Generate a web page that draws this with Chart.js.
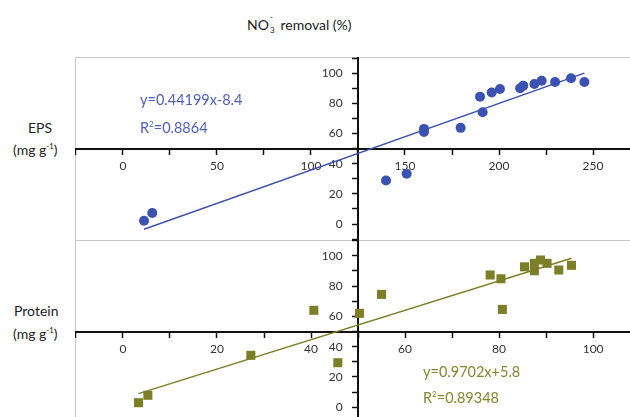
<!DOCTYPE html>
<html>
<head>
<meta charset="utf-8">
<script src="https://cdn.jsdelivr.net/npm/chart.js@4"></script>
<style>
  html, body { margin:0; padding:0; background:#fff; }
  #wrap { position:relative; width:630px; height:417px; overflow:hidden; background:#fff; font-family: Lato, "Open Sans", sans-serif; color:#222; }
  .t { position:absolute; white-space:nowrap; line-height:1; }
  .panel { position:absolute; left:75px; }
  sup, sub { font-size:0.55em; line-height:0; }
  .ion { display:inline-block; position:relative; width:8px; height:1em; vertical-align:baseline; }
  .ion .u { position:absolute; left:1px; top:-3px; font-size:8px; }
  .ion .d { position:absolute; left:1px; top:10px; font-size:8px; }
</style>
</head>
<body>
<div id="wrap">
  <div class="t" style="left:247px;top:16px;font-size:14px;">NO<span class="ion"><span class="u">-</span><span class="d">3</span></span> removal (%)</div>
  <div class="t" style="left:28px;top:121px;font-size:14px;">EPS</div>
  <div class="t" style="left:13px;top:143px;font-size:14px;">(mg g<sup>-1</sup>)</div>
  <div class="t" style="left:14px;top:304px;font-size:14px;">Protein</div>
  <div class="t" style="left:13px;top:327px;font-size:14px;">(mg g<sup>-1</sup>)</div>

  <div class="panel" style="top:57px;"><canvas id="c1" width="575" height="183"></canvas></div>
  <div class="panel" style="top:240px;"><canvas id="c2" width="575" height="183"></canvas></div>

  <div class="t" style="left:140px;top:93px;font-size:14.5px;color:#4f5fbf;">y=0.44199x-8.4</div>
  <div class="t" style="left:140px;top:121px;font-size:14.5px;color:#4f5fbf;">R<sup>2</sup>=0.8864</div>
  <div class="t" style="left:423px;top:365px;font-size:14.5px;color:#84862f;">y=0.9702x+5.8</div>
  <div class="t" style="left:423px;top:391px;font-size:14.5px;color:#84862f;">R<sup>2</sup>=0.89348</div>
</div>
<script>
// ---- data ----
const epsX = [11.2, 15.6, 139.9, 150.9, 160.1, 160.1, 179.6, 189.9, 191.3, 196.1, 200.5, 211.2, 212.9, 218.8, 222.7, 229.8, 238.3, 245.4];
const epsY = [2.2, 7.3, 28.9, 33.3, 63.1, 61.1, 63.8, 84.5, 74.2, 87.2, 89.6, 90.1, 91.8, 92.9, 95.1, 94.2, 96.7, 94.2];
const epsSlope = 0.44199, epsIntercept = -8.4;

const protX = [3.3, 5.3, 27.2, 40.6, 45.7, 50.3, 55.0, 78.1, 80.4, 80.7, 85.4, 87.5, 87.5, 88.8, 90.2, 92.7, 95.4];
const protY = [3.0, 7.9, 34.3, 64.0, 29.4, 62.0, 74.5, 87.3, 84.8, 64.6, 92.7, 95.0, 90.1, 97.2, 95.0, 90.6, 93.7];
const protSlope = 0.9702, protIntercept = 5.8;

// tick positions and which get labels
const epsXTicks = [-25, 0, 25, 50, 75, 100, 125, 150, 175, 200, 225, 250, 275];
const epsXLabels = [0, 50, 100, 150, 200, 250];
const protXTicks = [-10, 0, 10, 20, 30, 40, 50, 60, 70, 80, 90, 100, 110];
const protXLabels = [0, 20, 40, 60, 80, 100];
const yTicks = [-10, 0, 10, 20, 30, 40, 50, 60, 70, 80, 90, 100, 110];
const yLabels = [0, 20, 40, 60, 80, 100];

const framePlugin = {
  id: 'frame',
  beforeDraw(chart) {
    const a = chart.chartArea, ctx = chart.ctx;
    ctx.save();
    ctx.strokeStyle = '#c9c9c9';
    ctx.lineWidth = 1;
    ctx.strokeRect(a.left + 0.5, a.top + 0.5, a.right - a.left - 1, a.bottom - a.top);
    ctx.restore();
  }
};

function fitLine(xs, m, b) {
  const x0 = Math.min(...xs), x1 = Math.max(...xs);
  return [{x: x0, y: m * x0 + b}, {x: x1, y: m * x1 + b}];
}

function makeChart(id, xs, ys, m, b, color, pointStyle, radius, xRange, yRange, yAxisAt, xTicks, xLabels) {
  const pts = xs.map((x, i) => ({x, y: ys[i]}));
  const tickFont = {family: 'Lato, "Open Sans", sans-serif', size: 12};
  return new Chart(document.getElementById(id), {
    type: 'scatter',
    data: {
      datasets: [
        {type: 'line', data: fitLine(xs, m, b), borderColor: color, borderWidth: 1.4, pointRadius: 0, fill: false, order: 2},
        {data: pts, backgroundColor: color, borderColor: color, borderWidth: 0, pointStyle, pointRadius: radius, pointHoverRadius: radius, order: 1}
      ]
    },
    options: {
      responsive: false,
      animation: false,
      events: [],
      layout: {padding: 0, autoPadding: false},
      plugins: {legend: {display: false}, tooltip: {enabled: false}},
      scales: {
        x: {
          type: 'linear', min: xRange[0], max: xRange[1],
          position: {y: 50},
          afterBuildTicks: s => { s.ticks = xTicks.map(v => ({value: v})); },
          afterFit: s => { s.height = 0; s.paddingLeft = s.paddingRight = s.paddingTop = s.paddingBottom = 0; },
          ticks: {
            autoSkip: false, maxRotation: 0, padding: 5, color: '#333', font: tickFont,
            callback: v => xLabels.includes(v) ? String(v) : ''
          },
          grid: {drawOnChartArea: false, drawTicks: true, tickLength: 5, tickWidth: 1.5, tickColor: '#111'},
          border: {display: true, color: '#111', width: 2}
        },
        y: {
          type: 'linear', min: yRange[0], max: yRange[1],
          position: {x: yAxisAt},
          afterBuildTicks: s => { s.ticks = yTicks.map(v => ({value: v})); },
          afterFit: s => { s.width = 0; s.paddingLeft = s.paddingRight = s.paddingTop = s.paddingBottom = 0; },
          ticks: {
            autoSkip: false, padding: 5, color: '#333', font: tickFont,
            // trailing spaces push the right-aligned labels clear of the axis line
            callback: v => yLabels.includes(v) ? String(v) + '     ' : ''
          },
          grid: {drawOnChartArea: false, drawTicks: true, tickLength: 5, tickWidth: 1.5, tickColor: '#111'},
          border: {display: true, color: '#111', width: 2}
        }
      }
    },
    plugins: [framePlugin]
  });
}

makeChart('c1', epsX, epsY, epsSlope, epsIntercept, 'rgb(60,82,178)', 'circle', 5,
  [-25.5, 280.3], [-10.6, 110.8], 125, epsXTicks, epsXLabels);
makeChart('c2', protX, protY, protSlope, protIntercept, 'rgb(124,127,40)', 'rect', 6.4,
  [-10.2, 112.1], [-10.4, 110.4], 50, protXTicks, protXLabels);
</script>
</body>
</html>
